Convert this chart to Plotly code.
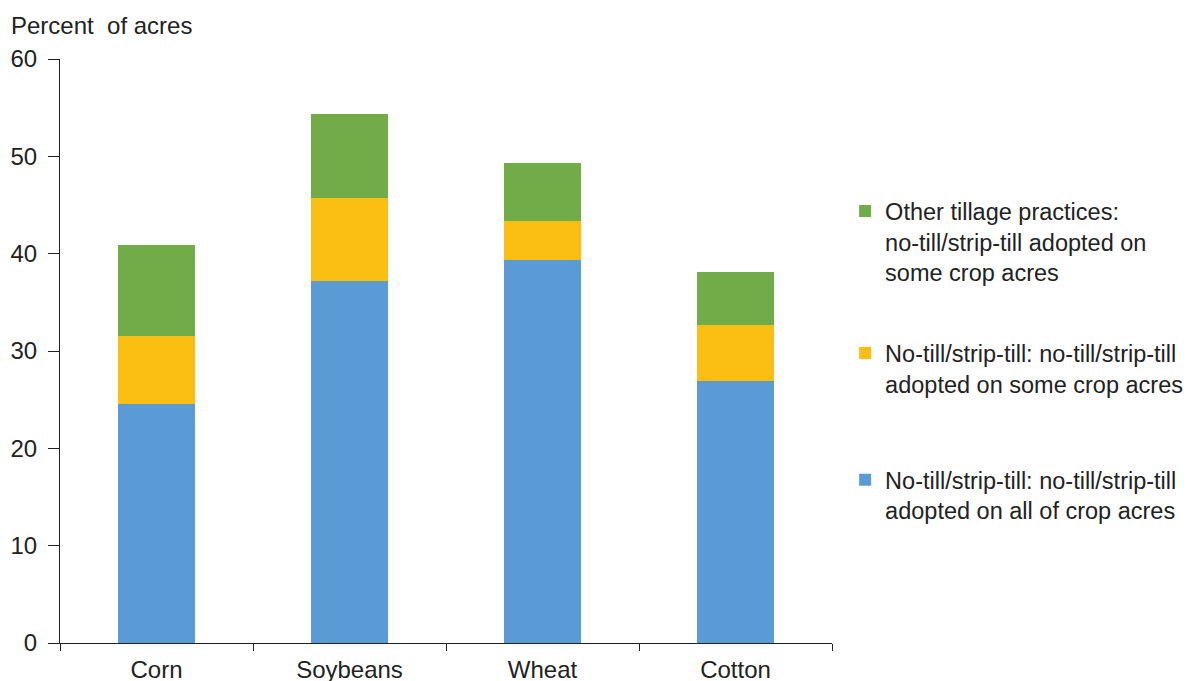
import plotly.graph_objects as go

categories = ["Corn", "Soybeans", "Wheat", "Cotton"]
all_acres = [24.6, 37.2, 39.4, 26.9]
some_acres = [6.9, 8.5, 4.0, 5.8]
other_practices = [9.4, 8.6, 5.9, 5.4]

series_names = [
    "No-till/strip-till: no-till/strip-till<br>adopted on all of crop acres",
    "No-till/strip-till: no-till/strip-till<br>adopted on some crop acres",
    "Other tillage practices:<br>no-till/strip-till adopted on<br>some crop acres",
]
series_values = [all_acres, some_acres, other_practices]
colors = ["#5B9BD5", "#FBBF13", "#72AC48"]
legend_ids = ["legend3", "legend2", "legend"]
legend_tops = [0.317, 0.534, 0.777]

fig = go.Figure()
for name, vals, col, lid in zip(series_names, series_values, colors, legend_ids):
    fig.add_trace(go.Bar(
        x=categories, y=vals, name=name, marker_color=col,
        marker_line_width=0, width=0.4, legend=lid,
    ))

legend_style = dict(
    x=1.017, xanchor="left", yanchor="top", valign="top",
    font=dict(size=23.5, color="#222"), itemwidth=30,
    bgcolor="rgba(0,0,0,0)",
)
legends = {lid: dict(legend_style, y=top) for lid, top in zip(legend_ids, legend_tops)}

fig.update_layout(
    barmode="stack",
    width=1194, height=681,
    margin=dict(l=52, r=370, t=51, b=46, autoexpand=False),
    plot_bgcolor="white", paper_bgcolor="white",
    font=dict(family="Liberation Sans, Arial, sans-serif", size=24, color="#222"),
    showlegend=True,
    annotations=[dict(
        text="Percent  of acres", x=-0.066, xref="paper", xanchor="left",
        y=1.0, yref="paper", yshift=34, yanchor="middle", showarrow=False,
        font=dict(size=24, color="#222"),
    )],
    **legends,
)
fig.update_yaxes(
    range=[0, 60], dtick=10, showgrid=False, zeroline=False,
    showline=True, linecolor="#222", linewidth=1,
    ticks="outside", ticklen=11, tickcolor="#222", ticklabelstandoff=6,
)
fig.update_xaxes(
    showgrid=False, showline=True, linecolor="#222", linewidth=1,
    ticks="outside", ticklen=7, tickcolor="#222", tickson="boundaries",
    ticklabelstandoff=5,
)

fig.write_html("out.html")
